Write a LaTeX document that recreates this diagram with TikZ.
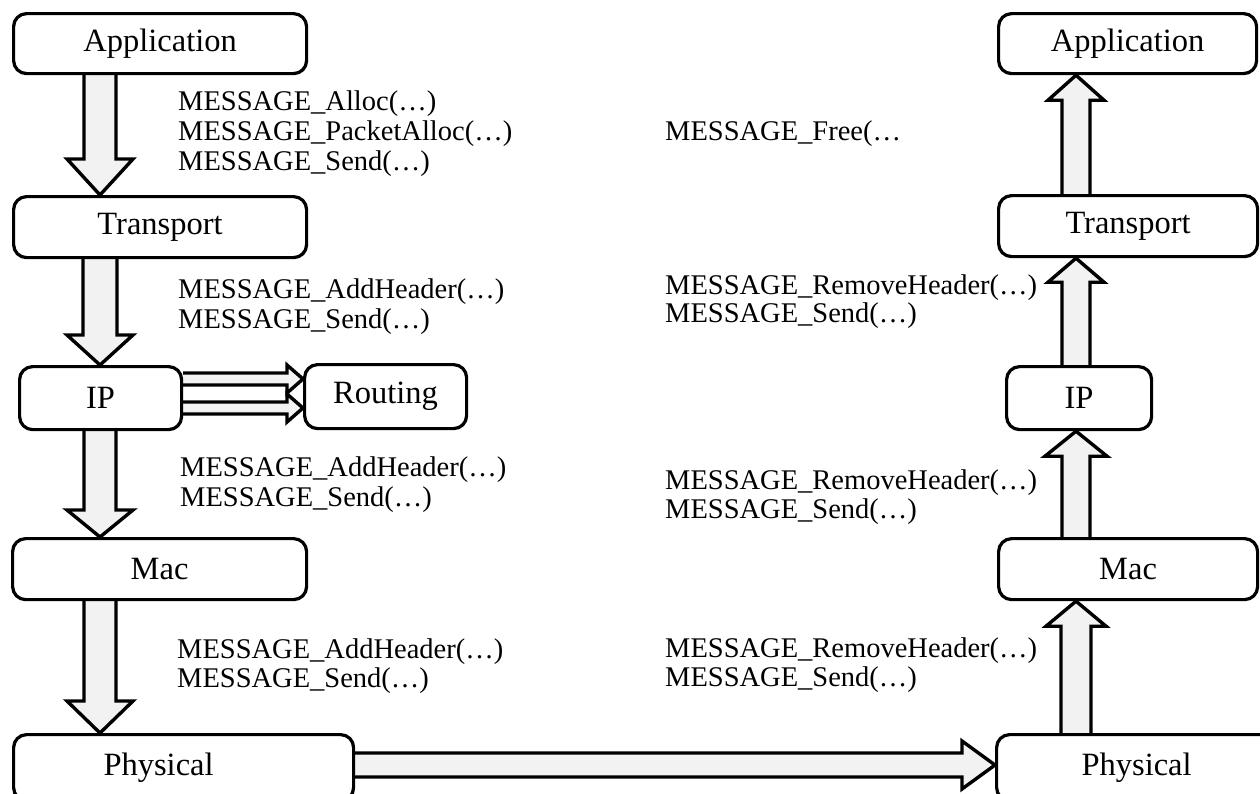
\documentclass[tikz,border=0pt]{standalone}
\usepackage{fontspec}
\setmainfont{Liberation Serif}
\usetikzlibrary{calc}
\pgfdeclarelayer{bg}
\pgfsetlayers{bg,main}
\tikzset{
  layer/.style={draw, line width=3.2pt, rounded corners=13pt, inner sep=0pt,
    fill=white, anchor=north west, font=\fontsize{32.5}{36}\selectfont},
  call/.style={anchor=base west, inner sep=0pt, font=\fontsize{28.5}{30}\selectfont},
  blk/.style={draw, line width=3.4pt, line join=miter, fill=gray!10},
}
% block arrow: #1 start, #2 tip, #3 half shaft width, #4 half head width, #5 head length
\newcommand{\blockarrow}[5]{%
  \path ($(#2)!#5!(#1)$) coordinate (hb);
  \fill[gray!10] ($(#1)!#3!90:(#2)$) -- ($(hb)!#3!-90:(#1)$) -- ($(hb)!#4!-90:(#1)$) -- (#2)
    -- ($(hb)!#4!90:(#1)$) -- ($(hb)!#3!90:(#1)$) -- ($(#1)!#3!-90:(#2)$) -- cycle;
  \draw[blk, fill=none] ($(#1)!#3!90:(#2)$) -- ($(hb)!#3!-90:(#1)$) -- ($(hb)!#4!-90:(#1)$) -- (#2)
    -- ($(hb)!#4!90:(#1)$) -- ($(hb)!#3!90:(#1)$) -- ($(#1)!#3!-90:(#2)$);
}
\begin{document}
\begin{tikzpicture}[x=1pt, y=-1pt]
\useasboundingbox (0,0) rectangle (1260,793);
\clip (0,0) rectangle (1260,793);

% sending stack
\node[layer, minimum width=293pt, minimum height=60pt] (lapp) at (12,12) {Application};
\node[layer, minimum width=293pt, minimum height=61pt] (ltrans) at (12,195) {Transport};
\node[layer, minimum width=162pt, minimum height=63pt] (lip) at (18,365) {IP};
\node[layer, minimum width=162pt, minimum height=64pt] (route) at (303,363) {Routing};
\node[layer, minimum width=294pt, minimum height=61pt] (lmac) at (11,537) {Mac};
\node[layer, minimum width=340pt, minimum height=66pt] (lphys) at (12,733) {Physical\hspace*{50pt}};

% receiving stack
\node[layer, minimum width=258pt, minimum height=60pt] (rapp) at (997,12) {Application};
\node[layer, minimum width=259pt, minimum height=61pt] (rtrans) at (997,194) {Transport};
\node[layer, minimum width=145pt, minimum height=63pt] (rip) at (1005,365) {IP};
\node[layer, minimum width=259pt, minimum height=61pt] (rmac) at (997,537) {Mac};
\node[layer, minimum width=280pt, minimum height=66pt] (rphys) at (995,733) {Physical};

% API calls
\node[call] (c1a) at (178,110) {MESSAGE\_Alloc(…)};
\node[call] (c1b) at (178,140) {MESSAGE\_PacketAlloc(…)};
\node[call] (c1c) at (178,170) {MESSAGE\_Send(…)};
\node[call] (f1) at (665,140) {MESSAGE\_Free(…};

\node[call] (c2a) at (178,298) {MESSAGE\_AddHeader(…)};
\node[call] (c2b) at (178,328) {MESSAGE\_Send(…)};
\node[call] (r2a) at (665,294) {MESSAGE\_RemoveHeader(…)};
\node[call] (r2b) at (665,322) {MESSAGE\_Send(…)};

\node[call] (c3a) at (180,476) {MESSAGE\_AddHeader(…)};
\node[call] (c3b) at (180,506) {MESSAGE\_Send(…)};
\node[call] (r3a) at (665,489) {MESSAGE\_RemoveHeader(…)};
\node[call] (r3b) at (665,518) {MESSAGE\_Send(…)};

\node[call] (c4a) at (177,658) {MESSAGE\_AddHeader(…)};
\node[call] (c4b) at (177,687) {MESSAGE\_Send(…)};
\node[call] (r4a) at (665,657) {MESSAGE\_RemoveHeader(…)};
\node[call] (r4b) at (665,686) {MESSAGE\_Send(…)};

% arrow axes
\coordinate (lx) at (100,0);
\coordinate (rx) at (1076,0);
\coordinate (ru) at (0,379);
\coordinate (rl) at (0,408);
\coordinate (py) at (0,765);

\begin{pgfonlayer}{bg}
  % down the sending stack
  \blockarrow{lapp.south -| lx}{ltrans.north -| lx}{16pt}{33pt}{36pt}
  \blockarrow{ltrans.south -| lx}{lip.north -| lx}{17pt}{33pt}{30pt}
  \blockarrow{lip.south -| lx}{lmac.north -| lx}{16pt}{33pt}{27pt}
  \blockarrow{lmac.south -| lx}{lphys.north -| lx}{16pt}{33pt}{32pt}
  % IP to routing
  \blockarrow{lip.east |- ru}{route.west |- ru}{6pt}{14pt}{16pt}
  \blockarrow{lip.east |- rl}{route.west |- rl}{6pt}{14pt}{16pt}
  % across the channel
  \blockarrow{lphys.east |- py}{rphys.west |- py}{12pt}{24pt}{33pt}
  % up the receiving stack
  \blockarrow{rphys.north -| rx}{rmac.south -| rx}{15pt}{30pt}{25pt}
  \blockarrow{rmac.north -| rx}{rip.south -| rx}{14pt}{31pt}{25pt}
  \blockarrow{rip.north -| rx}{rtrans.south -| rx}{14pt}{28pt}{24pt}
  \blockarrow{rtrans.north -| rx}{rapp.south -| rx}{14pt}{28pt}{25pt}
\end{pgfonlayer}
\end{tikzpicture}
\end{document}
